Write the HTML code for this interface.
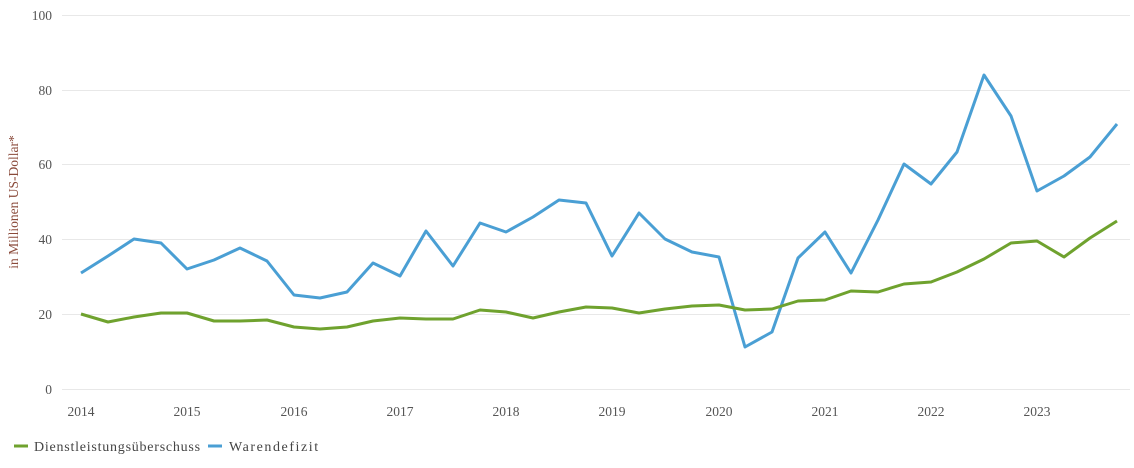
<!DOCTYPE html>
<html><head><meta charset="utf-8"><style>
html,body{margin:0;padding:0;background:#fff;}
svg{display:block;font-family:"Liberation Serif",serif;}
</style></head><body>
<svg width="1134" height="468" viewBox="0 0 1134 468" xmlns="http://www.w3.org/2000/svg">
<g stroke="#e8e8e8" stroke-width="1">
<line x1="62" y1="15.5" x2="1130" y2="15.5"/>
<line x1="62" y1="90.5" x2="1130" y2="90.5"/>
<line x1="62" y1="164.5" x2="1130" y2="164.5"/>
<line x1="62" y1="239.5" x2="1130" y2="239.5"/>
<line x1="62" y1="314.5" x2="1130" y2="314.5"/>
<line x1="62" y1="389.5" x2="1130" y2="389.5"/>
</g>
<g fill="#555" font-size="13.5" text-anchor="end">
<text x="52" y="20">100</text><text x="52" y="95">80</text><text x="52" y="169">60</text>
<text x="52" y="244">40</text><text x="52" y="319">20</text><text x="52" y="394">0</text>
</g>
<text transform="translate(18,202) rotate(-90)" text-anchor="middle" fill="#8a4a3a" font-size="13.5">in Millionen US-Dollar*</text>
<g fill="#555" font-size="13.5" text-anchor="middle">
<text x="81" y="416">2014</text><text x="187" y="416">2015</text><text x="294" y="416">2016</text>
<text x="400" y="416">2017</text><text x="506" y="416">2018</text><text x="612" y="416">2019</text>
<text x="719" y="416">2020</text><text x="825" y="416">2021</text><text x="931" y="416">2022</text>
<text x="1037" y="416">2023</text>
</g>
<polyline fill="none" stroke="#4a9fd4" stroke-width="3" stroke-linejoin="round" points="81,273 108,256 134,239 161,243 187,269 214,260 240,248 267,261 294,295 320,298 347,292 373,263 400,276 426,231 453,266 480,223 506,232 533,217 559,200 586,203 612,256 639,213 665,239 692,252 719,257 745,347 772,332 798,258 825,232 851,273 878,220 904,164 931,184 957,152 984,75 1011,116 1037,191 1064,176 1090,157 1117,124"/>
<polyline fill="none" stroke="#6fa22e" stroke-width="3" stroke-linejoin="round" points="81,314 108,322 134,317 161,313 187,313 214,321 240,321 267,320 294,327 320,329 347,327 373,321 400,318 426,319 453,319 480,310 506,312 533,318 559,312 586,307 612,308 639,313 665,309 692,306 719,305 745,310 772,309 798,301 825,300 851,291 878,292 904,284 931,282 957,272 984,259 1011,243 1037,241 1064,257 1090,238 1117,221"/>
<line x1="14" y1="446" x2="28" y2="446" stroke="#6fa22e" stroke-width="3"/>
<text x="34" y="451" fill="#444" font-size="14" letter-spacing="0.9" textLength="167" lengthAdjust="spacing">Dienstleistungsüberschuss</text>
<line x1="208" y1="446" x2="222" y2="446" stroke="#4a9fd4" stroke-width="3"/>
<text x="229" y="451" fill="#444" font-size="14" letter-spacing="0.9" textLength="90" lengthAdjust="spacing">Warendefizit</text>
</svg>
</body></html>
